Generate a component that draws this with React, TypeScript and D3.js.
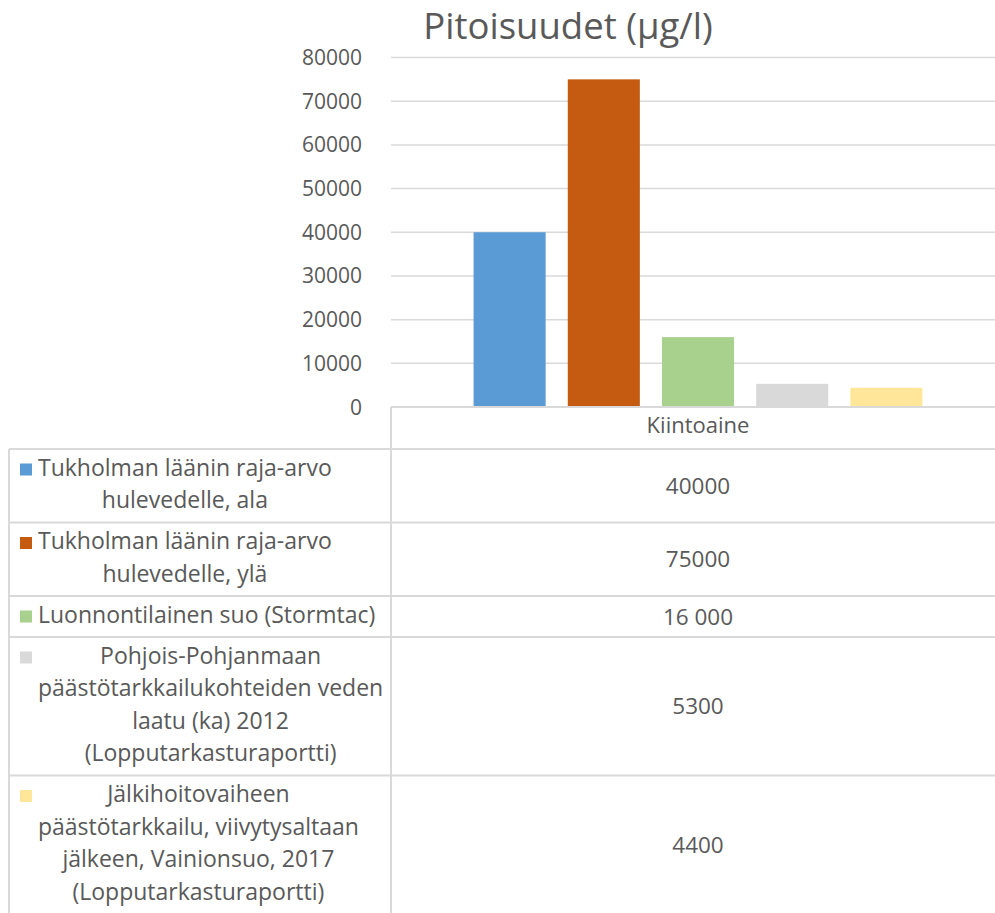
import React from 'react';
import * as d3 from 'd3';

const W = 995;
const H = 913;

const titleText = 'Pitoisuudet (µg/l)';
const categories = ['Kiintoaine'];
const seriesLines = [
  ['Tukholman läänin raja-arvo', 'hulevedelle, ala'],
  ['Tukholman läänin raja-arvo', 'hulevedelle, ylä'],
  ['Luonnontilainen suo (Stormtac)'],
  ['Pohjois-Pohjanmaan', 'päästötarkkailukohteiden veden', 'laatu (ka) 2012', '(Lopputarkasturaportti)'],
  ['Jälkihoitovaiheen', 'päästötarkkailu, viivytysaltaan', 'jälkeen, Vainionsuo, 2017', '(Lopputarkasturaportti)'],
];
const seriesValues = [40000, 75000, 16000, 5300, 4400];
const valueLabels = ['40000', '75000', '16 000', '5300', '4400'];
const seriesColors = ['#5b9bd5', '#c55a11', '#a9d18e', '#d9d9d9', '#ffe699'];

const FONT = '"Open Sans", "DejaVu Sans", sans-serif';
const TEXT = '#595959';
const GRID = '#d9d9d9';

// measure text width for centring the wrapped legend lines
let ctx: CanvasRenderingContext2D | null = null;
const measure = (s: string, size: number) => {
  if (!ctx) ctx = document.createElement('canvas').getContext('2d');
  if (!ctx) return s.length * size * 0.5;
  ctx.font = `${size}px "Open Sans"`;
  return ctx.measureText(s).width;
};

export default function App() {
  const plotLeft = 391;
  const plotRight = 1005;
  const plotTop = 57.5;
  const baseY = 407;

  const y = d3.scaleLinear().domain([0, 80000]).range([baseY, plotTop]);
  const x = d3.scaleBand<string>().domain(categories).range([plotLeft, plotRight]).paddingInner(0).paddingOuter(0.184);
  const xs = d3.scaleBand<number>().domain(d3.range(seriesValues.length)).range([0, x.bandwidth()]).paddingInner(0.235);

  const legendSize = 23;
  const lineH = 32.5;
  const headerBottom = 449;

  // row layout of the data table
  let acc = headerBottom;
  const rows = seriesLines.map((lines) => {
    const h = 41 + lineH * (lines.length - 1);
    const r = { top: acc, h };
    acc += h;
    return r;
  });

  const ticks = y.ticks(8);
  const catCenter = (x(categories[0]) || 0) + x.bandwidth() / 2;

  return (
    <svg width={W} height={H} style={{ position: 'absolute', left: 0, top: 0, background: '#fff' }} fontFamily={FONT}>
      <text x={568} y={39} textAnchor="middle" fontSize={36.5} fill={TEXT}>{titleText}</text>

      {ticks.map((t) => (
        <g key={t}>
          {t > 0 && <line x1={plotLeft} x2={W} y1={y(t)} y2={y(t)} stroke={GRID} strokeWidth={1.5} />}
          <text x={362} y={y(t)} dy="0.36em" textAnchor="end" fontSize={21} fill={TEXT}>{t}</text>
        </g>
      ))}

      {seriesValues.map((v, i) => (
        <rect key={i} x={(x(categories[0]) || 0) + (xs(i) || 0)} y={y(v)} width={xs.bandwidth()} height={baseY - y(v)} fill={seriesColors[i]} />
      ))}

      {/* data table */}
      <g stroke={GRID} strokeWidth={2}>
        <line x1={plotLeft} x2={W} y1={baseY} y2={baseY} />
        <line x1={plotLeft} x2={plotLeft} y1={baseY} y2={H} />
        <line x1={9} x2={9} y1={headerBottom} y2={H} />
        <line x1={9} x2={W} y1={headerBottom} y2={headerBottom} />
        {rows.map((r, i) => (
          <line key={i} x1={9} x2={W} y1={r.top + r.h} y2={r.top + r.h} />
        ))}
      </g>
      <text x={catCenter} y={433} textAnchor="middle" fontSize={22} fill={TEXT}>{categories[0]}</text>

      {seriesLines.map((lines, i) => {
        const r = rows[i];
        const blockW = d3.max(lines, (l) => measure(l, legendSize)) || 0;
        const cx = 38 + blockW / 2;
        const b0 = r.top + 26.5;
        return (
          <g key={i}>
            <rect x={20} y={b0 - 12} width={12} height={12} fill={seriesColors[i]} />
            {lines.map((l, j) => (
              <text key={j} x={cx} y={b0 + j * lineH} textAnchor="middle" fontSize={legendSize} fill={TEXT}>{l}</text>
            ))}
            <text x={catCenter} y={r.top + r.h / 2} dy="0.36em" textAnchor="middle" fontSize={22.5} fill={TEXT}>{valueLabels[i]}</text>
          </g>
        );
      })}
    </svg>
  );
}
